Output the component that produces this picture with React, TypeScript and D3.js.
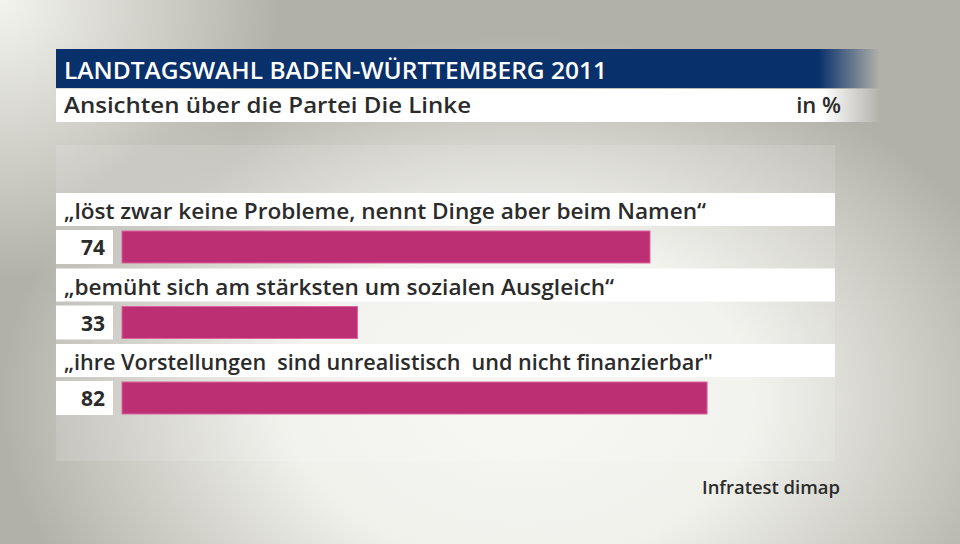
import React from "react";
import * as d3 from "d3";

const title = "LANDTAGSWAHL BADEN-WÜRTTEMBERG 2011";
const subtitle = "Ansichten über die Partei Die Linke";
const unit = "in %";
const source = "Infratest dimap";
const categories = [
  "„löst zwar keine Probleme, nennt Dinge aber beim Namen“",
  "„bemüht sich am stärksten um sozialen Ausgleich“",
  "„ihre Vorstellungen  sind unrealistisch  und nicht finanzierbar\"",
];
const values = [74, 33, 82];
const labelWidths = [642, 550, 649];

const W = 960;
const H = 544;
const FONT = "'Open Sans', 'Noto Sans', sans-serif";

export default function App() {
  const x = d3.scaleLinear().domain([0, 100]).range([122, 835.5]);
  const y = d3.scaleLinear().domain([0, categories.length]).range([193, 193 + 75.5 * categories.length]);

  return (
    <svg width={W} height={H} style={{ position: "absolute", left: 0, top: 0 }}>
      <defs>
        <radialGradient id="bgGlow" cx="520" cy="400" r="520" gradientUnits="userSpaceOnUse" gradientTransform="translate(520 400) scale(1 0.7) translate(-520 -400)">
          <stop offset="0" stopColor="#f6f6f2" />
          <stop offset="0.45" stopColor="#f1f1ec" />
          <stop offset="1" stopColor="#f1f1ec" stopOpacity="0" />
        </radialGradient>
        <radialGradient id="bgTL" cx="0" cy="0" r="280" gradientUnits="userSpaceOnUse">
          <stop offset="0" stopColor="#f4f4ef" />
          <stop offset="1" stopColor="#f4f4ef" stopOpacity="0" />
        </radialGradient>
        <linearGradient id="blueFade" x1="56" x2="880" gradientUnits="userSpaceOnUse">
          <stop offset="0" stopColor="#08306b" />
          <stop offset="0.925" stopColor="#08306b" />
          <stop offset="1" stopColor="#08306b" stopOpacity="0" />
        </linearGradient>
        <linearGradient id="whiteFade" x1="56" x2="880" gradientUnits="userSpaceOnUse">
          <stop offset="0" stopColor="#ffffff" />
          <stop offset="0.93" stopColor="#ffffff" />
          <stop offset="1" stopColor="#ffffff" stopOpacity="0" />
        </linearGradient>
      </defs>
      <rect x={0} y={0} width={W} height={H} fill="#b2b1a9" />
      <rect x={0} y={0} width={W} height={H} fill="url(#bgGlow)" />
      <rect x={0} y={0} width={W} height={H} fill="url(#bgTL)" />

      {/* header */}
      <rect x={56} y={49} width={824} height={39} fill="url(#blueFade)" />
      <text x={64} y={79} fill="#ffffff" fontFamily={FONT} fontWeight={600} fontSize={23} textLength={543} lengthAdjust="spacingAndGlyphs">
        {title}
      </text>
      <rect x={56} y={89} width={824} height={33} fill="url(#whiteFade)" />
      <text x={64} y={113} fill="#2b2b2b" fontFamily={FONT} fontWeight={600} fontSize={22} textLength={407} lengthAdjust="spacingAndGlyphs">
        {subtitle}
      </text>
      <text x={841} y={113} fill="#2b2b2b" fontFamily={FONT} fontWeight={600} fontSize={22} textAnchor="end">
        {unit}
      </text>

      {/* panel */}
      <rect x={56} y={145} width={779} height={316} fill="#ffffff" fillOpacity={0.13} />

      {categories.map((c, i) => {
        const top = y(i);
        return (
          <g key={i}>
            <rect x={56} y={top} width={779} height={33} fill="#ffffff" />
            <text x={64} y={top + 26} fill="#2b2b2b" fontFamily={FONT} fontWeight={600} fontSize={22} textLength={labelWidths[i]} lengthAdjust="spacingAndGlyphs" style={{ whiteSpace: "pre" }}>
              {c}
            </text>
            <rect x={56} y={top + 37} width={57} height={34} fill="#ffffff" />
            <text x={105} y={top + 62} fill="#2b2b2b" fontFamily={FONT} fontWeight={700} fontSize={21} textAnchor="end">
              {values[i]}
            </text>
            <rect x={x(0)} y={top + 38} width={x(values[i]) - x(0)} height={32} fill="#bd2f73" stroke="#d9679c" strokeWidth={1} />
          </g>
        );
      })}

      <text x={840} y={494} fill="#2b2b2b" fontFamily={FONT} fontWeight={600} fontSize={18} textAnchor="end" textLength={138} lengthAdjust="spacingAndGlyphs">
        {source}
      </text>
    </svg>
  );
}
